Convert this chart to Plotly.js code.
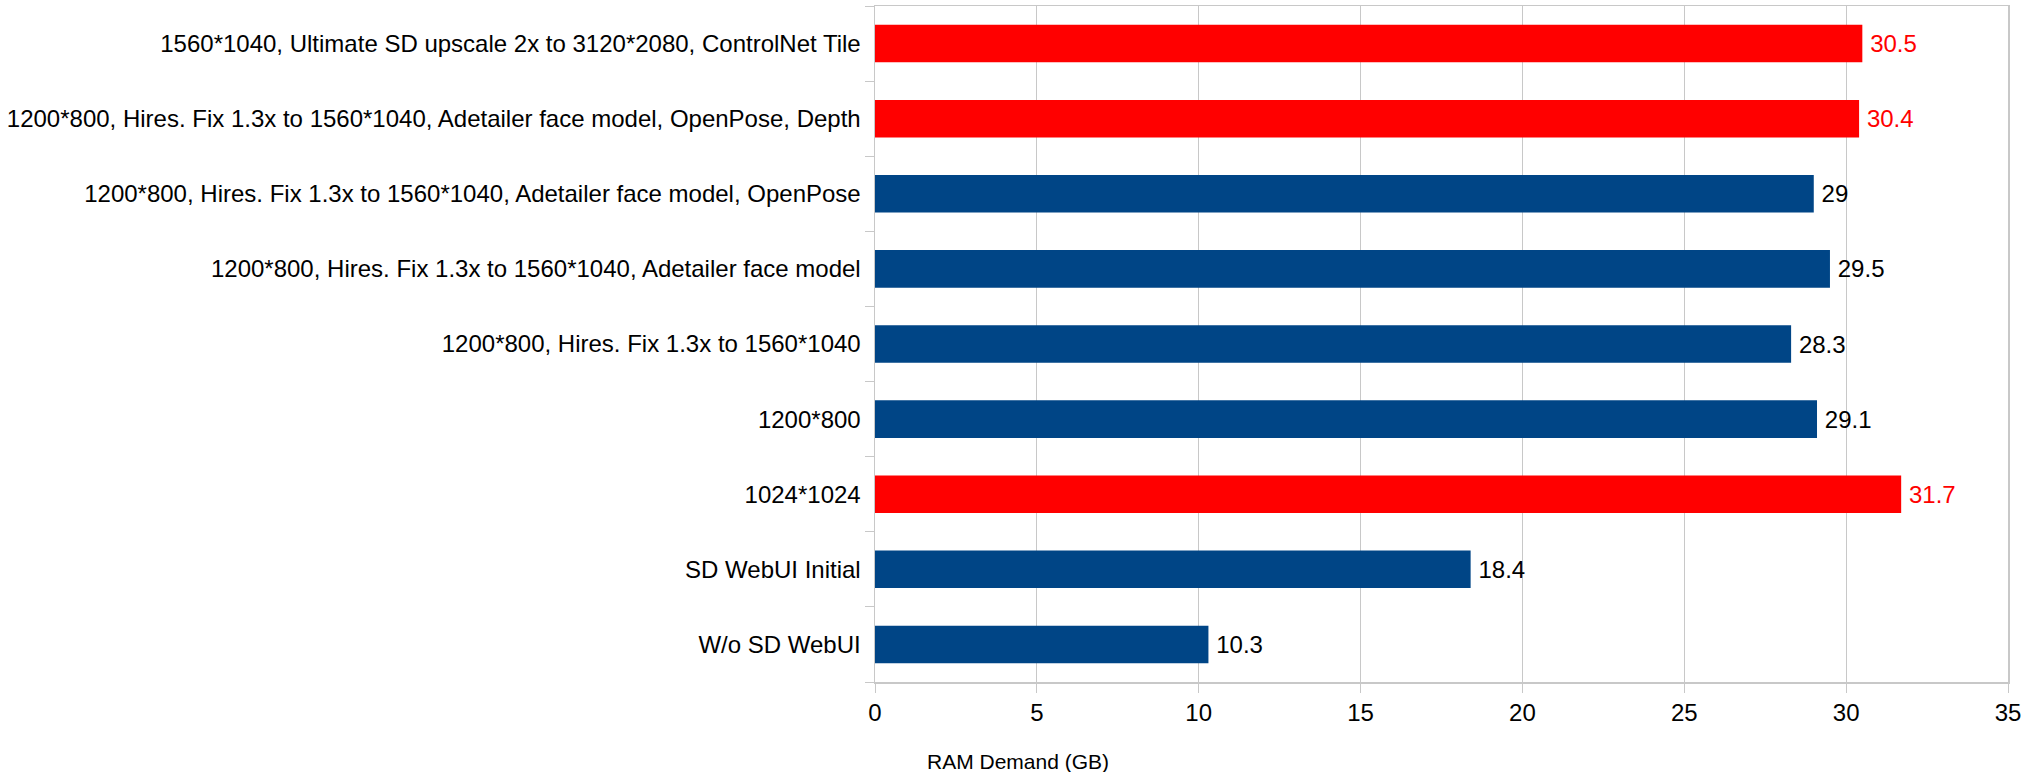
<!DOCTYPE html>
<html>
<head>
<meta charset="utf-8">
<script src="https://cdn.plot.ly/plotly-3.0.1.min.js"></script>
<style>html,body{margin:0;padding:0;background:#fff;}#chart{width:2040px;height:772px;}</style>
</head>
<body>
<div id="chart"></div>
<script>
const categories = [
  "W/o SD WebUI",
  "SD WebUI Initial",
  "1024*1024",
  "1200*800",
  "1200*800, Hires. Fix 1.3x to 1560*1040",
  "1200*800, Hires. Fix 1.3x to 1560*1040, Adetailer face model",
  "1200*800, Hires. Fix 1.3x to 1560*1040, Adetailer face model, OpenPose",
  "1200*800, Hires. Fix 1.3x to 1560*1040, Adetailer face model, OpenPose, Depth",
  "1560*1040, Ultimate SD upscale 2x to 3120*2080, ControlNet Tile"
];
const ramDemand = [10.3, 18.4, 31.7, 29.1, 28.3, 29.5, 29, 30.4, 30.5];
const highlighted = [false, false, true, false, false, false, false, true, true];
const xTicks = [0, 5, 10, 15, 20, 25, 30, 35];

const RED = "#ff0000", BLUE = "#004586";
const barColors = highlighted.map(h => h ? RED : BLUE);
const textColors = highlighted.map(h => h ? RED : "#000000");

const trace = {
  type: "bar",
  orientation: "h",
  y: categories,
  x: ramDemand,
  width: 0.5,
  marker: {color: barColors, line: {width: 0}},
  text: ramDemand.map(v => "\u2009" + String(v)),
  textposition: "outside",
  textfont: {family: "Liberation Sans", size: 24, color: textColors},
  cliponaxis: false,
  hoverinfo: "x+y"
};

const layout = {
  width: 2040,
  height: 772,
  margin: {l: 875, r: 32, t: 6, b: 90, pad: 0},
  paper_bgcolor: "#ffffff",
  plot_bgcolor: "#ffffff",
  font: {family: "Liberation Sans", size: 24, color: "#000000"},
  showlegend: false,
  xaxis: {
    range: [0, 35],
    tickvals: xTicks,
    ticktext: xTicks.map(String),
    showgrid: true,
    gridcolor: "#c8c8c8",
    gridwidth: 1,
    zeroline: false,
    showline: true,
    linecolor: "#c8c8c8",
    linewidth: 1.5,
    mirror: true,
    ticks: "outside",
    ticklen: 9,
    tickcolor: "#c8c8c8",
    tickfont: {family: "Liberation Sans", size: 24, color: "#000000"},
    fixedrange: true
  },
  yaxis: {
    type: "category",
    showgrid: false,
    zeroline: false,
    showline: true,
    linecolor: "#c8c8c8",
    linewidth: 1.5,
    mirror: true,
    ticks: "outside",
    tickson: "boundaries",
    ticklen: 9,
    tickcolor: "#c8c8c8",
    ticklabelstandoff: 8,
    tickfont: {family: "Liberation Sans", size: 24, color: "#000000"},
    fixedrange: true
  },
  annotations: [{
    text: "RAM Demand (GB)",
    xref: "paper", yref: "paper",
    x: 0.044, y: -0.118,
    xanchor: "left", yanchor: "middle",
    showarrow: false,
    font: {family: "Liberation Sans", size: 21, color: "#000000"}
  }]
};

Plotly.newPlot("chart", [trace], layout, {displayModeBar: false, staticPlot: true});
</script>
</body>
</html>
